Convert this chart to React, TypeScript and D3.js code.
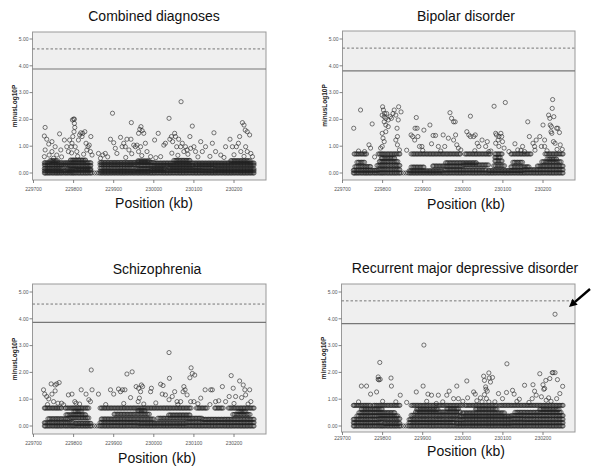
import React from "react";
import * as d3 from "d3";

// ---------- DATA ----------
const titles = ["Combined diagnoses", "Bipolar disorder", "Schizophrenia", "Recurrent major depressive disorder"];
const xTicks = [229700, 229800, 229900, 230000, 230100, 230200];
const yTicks = [0, 1, 2, 3, 4, 5];
const xLabel = "Position (kb)";
const yLabel = "minusLog10P";

// significance lines [solid, dashed]
const combinedLines = [3.88, 4.63];
const bipolarLines = [3.81, 4.66];
const schizoLines = [3.87, 4.55];
const mddLines = [3.82, 4.67];

// genotyped marker positions (kb)
const snpPositions = [229727,229729,229731,229734,229736,229739,229741,229744,229747,229749,229752,229755,229757,229760,229762,229765,229768,229770,229773,229776,229779,229781,229784,229786,229789,229792,229794,229797,229799,229801,229804,229806,229809,229812,229814,229817,229820,229822,229825,229828,229830,229833,229835,229838,229841,229843,229846,229852,229858,229863,229866,229869,229871,229874,229877,229879,229882,229885,229887,229890,229893,229895,229898,229901,229903,229906,229909,229911,229914,229917,229919,229922,229925,229927,229930,229933,229935,229938,229941,229943,229946,229949,229951,229954,229957,229960,229962,229965,229968,229970,229973,229976,229978,229981,229984,229986,229989,229992,229994,229997,230000,230002,230005,230008,230010,230013,230016,230018,230021,230024,230026,230029,230032,230034,230037,230040,230042,230045,230048,230050,230053,230056,230058,230061,230064,230066,230069,230072,230074,230077,230080,230082,230085,230088,230090,230093,230096,230098,230101,230104,230106,230109,230112,230114,230117,230120,230122,230125,230128,230130,230133,230136,230138,230141,230144,230146,230149,230152,230154,230157,230160,230162,230165,230168,230170,230173,230176,230178,230181,230184,230186,230189,230192,230194,230197,230200,230202,230205,230208,230210,230213,230216,230218,230221,230224,230226,230229,230232,230234,230237,230240,230242,230245,230248,230250];

// dense bands: [from kb, to kb, -log10 P] — markers in the span sit at that level
const combinedRows = [
  [[229727, 230250, 0]],
  [[229727, 229800, 0.08], [229802, 229843, 0.1], [229866, 229990, 0.07], [229992, 230120, 0.09], [230122, 230250, 0.08]],
  [[229727, 229775, 0.17], [229782, 229843, 0.15], [229866, 229950, 0.18], [229952, 230030, 0.16], [230036, 230150, 0.18], [230152, 230250, 0.15]],
  [[229727, 229790, 0.3], [229792, 229843, 0.28], [229866, 229960, 0.31], [229962, 230100, 0.29], [230102, 230250, 0.3]],
  [[229727, 229843, 0.38], [229866, 230000, 0.39], [230002, 230250, 0.37]],
  [[229740, 229760, 0.46], [229790, 229830, 0.48], [229960, 229990, 0.45], [230050, 230090, 0.47], [230190, 230240, 0.46]],
];
const bipolarRows = [
  [[229727, 230250, 0]],
  [[229727, 229790, 0.1], [229792, 229845, 0.12], [229866, 229950, 0.08], [229952, 230060, 0.11], [230062, 230150, 0.09], [230152, 230250, 0.12]],
  [[229730, 229770, 0.24], [229785, 229845, 0.28], [229870, 229905, 0.22], [229925, 230000, 0.26], [230002, 230065, 0.3], [230075, 230105, 0.27], [230120, 230165, 0.23], [230185, 230250, 0.26]],
  [[229735, 229755, 0.4], [229790, 229840, 0.43], [229955, 230035, 0.38], [230078, 230100, 0.45], [230125, 230150, 0.4], [230195, 230245, 0.42]],
  [[229795, 229830, 0.55], [230080, 230095, 0.58], [230210, 230235, 0.52]],
  [[229728, 229760, 0.71], [229788, 229845, 0.71], [229870, 229995, 0.71], [230005, 230070, 0.71], [230080, 230100, 0.71], [230120, 230170, 0.71], [230205, 230250, 0.71]],
];
const schizoRows = [
  [[229727, 230250, 0]],
  [[229727, 229800, 0.12], [229802, 229843, 0.1], [229866, 229960, 0.13], [229962, 230080, 0.11], [230082, 230250, 0.13]],
  [[229735, 229790, 0.27], [229792, 229840, 0.3], [229868, 230000, 0.26], [230010, 230120, 0.29], [230122, 230250, 0.25]],
  [[229780, 229830, 0.42], [229900, 229990, 0.44], [230035, 230090, 0.41], [230195, 230240, 0.43]],
  [[229800, 229820, 0.55], [229960, 229980, 0.57], [230210, 230230, 0.54]],
  [[229727, 229770, 0.67], [229778, 229840, 0.67], [229866, 230095, 0.67], [230105, 230135, 0.67], [230150, 230175, 0.67], [230185, 230250, 0.67]],
];
const mddRows = [
  [[229727, 230250, 0]],
  [[229727, 229800, 0.12], [229802, 229845, 0.1], [229866, 229980, 0.13], [229982, 230120, 0.11], [230122, 230250, 0.12]],
  [[229727, 229790, 0.25], [229792, 229845, 0.27], [229866, 230000, 0.24], [230002, 230150, 0.26], [230152, 230250, 0.25]],
  [[229735, 229840, 0.38], [229870, 229990, 0.4], [229992, 230120, 0.37], [230122, 230250, 0.39]],
  [[229740, 229830, 0.5], [229880, 229995, 0.52], [230000, 230105, 0.49], [230130, 230245, 0.51]],
  [[229745, 229800, 0.63], [229885, 229940, 0.62], [229960, 229990, 0.64], [230030, 230085, 0.63], [230190, 230240, 0.62]],
  [[229727, 229770, 0.77], [229775, 229845, 0.77], [229870, 230000, 0.77], [230005, 230085, 0.77], [230090, 230250, 0.77]],
];

// scattered markers [kb, -log10 P]
const combinedPoints = [
  [229727,1.38],[229729,1.70],[229733,1.26],[229738,1.08],[229746,1.17],[229727,0.61],[229729,0.86],[229739,0.67],[229746,0.80],[229754,0.98],
  [229758,0.67],[229765,1.46],[229768,0.86],[229777,1.23],[229783,0.98],[229787,0.80],[229790,1.23],[229794,0.98],[229797,1.98],[229800,2.01],
  [229802,2.01],[229802,1.85],[229803,1.70],[229801,1.54],[229798,1.36],[229796,1.11],[229804,0.98],[229808,0.80],[229812,1.23],[229815,1.42],
  [229818,1.50],[229821,1.36],[229823,1.48],[229828,1.54],[229831,1.11],[229833,0.86],[229836,0.98],[229839,1.04],[229843,1.36],[229842,0.80],
  [229846,0.67],[229862,0.73],[229867,0.55],[229873,0.67],[229879,0.73],[229892,1.26],[229897,2.23],[229900,1.13],[229904,0.92],[229908,0.73],
  [229917,1.33],[229921,0.98],[229925,1.11],[229929,0.98],[229933,1.26],[229938,0.86],[229943,1.26],[229944,1.88],[229950,1.04],[229954,0.98],
  [229958,1.04],[229962,1.48],[229965,1.63],[229968,1.73],[229971,1.58],[229975,1.48],[229979,1.11],[229967,0.98],[229962,0.80],[229983,0.80],
  [229992,0.61],[230002,1.23],[230011,1.48],[230017,0.61],[230025,1.04],[230029,1.11],[230038,2.04],[230040,1.26],[230044,1.36],[230047,1.17],
  [230052,1.48],[230054,1.36],[230057,0.98],[230062,1.26],[230068,2.66],[230067,0.98],[230071,1.11],[230075,0.80],[230079,0.98],[230083,0.86],
  [230090,1.36],[230092,0.92],[230096,1.75],[230100,0.98],[230104,0.80],[230117,1.17],[230121,0.80],[230129,0.98],[230146,1.11],[230150,1.50],
  [230154,0.80],[230167,0.67],[230179,0.98],[230190,1.26],[230196,0.98],[230206,0.98],[230211,1.11],[230214,1.36],[230221,1.88],[230225,1.79],
  [230228,1.60],[230233,1.54],[230239,1.42],[230229,0.98],[230233,0.80],[230242,0.73],[230246,0.61],[230217,0.80],
  [229750,0.55],[229770,0.60],[229810,0.62],[229825,0.70],[229885,0.60],[229930,0.58],[229970,0.65],[230005,0.57],[230060,0.66],[230110,0.60],
  [230140,0.62],[230175,0.58],[230200,0.68],[230225,0.62],[229945,0.72],[230085,0.70],[229795,0.75],[230045,0.74],
];
const bipolarPoints = [
  [229728,1.67],[229745,2.35],[229774,1.83],[229766,1.05],[229770,0.93],[229800,2.47],[229802,2.35],[229805,2.22],[229799,2.16],[229804,2.10],
  [229808,2.04],[229810,2.22],[229804,1.91],[229808,1.79],[229814,1.98],[229819,2.10],[229822,2.04],[229826,2.22],[229829,2.35],[229833,2.16],
  [229840,2.47],[229846,2.28],[229839,1.98],[229836,1.67],[229837,1.36],[229833,1.23],[229837,1.05],[229842,0.86],[229801,1.30],[229804,1.17],
  [229799,0.99],[229795,0.93],[229808,1.54],[229814,1.73],[229799,1.48],[229871,1.42],[229875,1.36],[229884,2.07],[229881,1.67],[229886,1.67],
  [229880,1.23],[229888,1.36],[229892,0.99],[229898,0.99],[229903,1.60],[229918,1.79],[229922,1.09],[229926,1.40],[229932,1.40],[229939,0.99],
  [229951,1.42],[229955,0.99],[229964,1.30],[229968,2.25],[229972,2.04],[229977,1.91],[229981,1.91],[229982,1.42],[229977,1.23],[229985,1.05],
  [229989,0.93],[230019,2.12],[230010,1.54],[230015,1.42],[230019,1.36],[230027,1.36],[230031,1.42],[230036,1.11],[230040,0.99],[230048,1.23],
  [230057,0.99],[230061,1.17],[230065,0.80],[230078,2.49],[230082,1.48],[230084,1.42],[230088,1.23],[230090,1.36],[230095,1.48],[230097,1.36],
  [230099,1.17],[230090,0.99],[230082,1.11],[230106,2.63],[230103,0.93],[230130,1.09],[230137,0.86],[230149,0.99],[230154,0.80],[230162,1.91],
  [230166,1.36],[230175,1.11],[230179,0.99],[230183,1.23],[230192,1.36],[230200,1.79],[230196,0.99],[230204,1.23],[230204,0.99],[230214,2.16],
  [230217,2.04],[230218,1.79],[230221,1.73],[230223,2.41],[230224,2.74],[230220,1.54],[230222,1.48],[230227,2.10],[230234,1.67],[230237,1.67],
  [230241,1.51],[230226,1.17],[230230,1.11],[230243,1.05],[230248,0.88],
  [229740,0.82],[229755,0.80],[229780,0.60],[229860,0.85],[229900,0.84],[229945,0.82],[229995,0.86],[230030,0.83],[230070,0.82],[230115,0.80],
  [230145,0.84],[230180,0.85],[230210,0.83],[230235,0.88],
];
const schizoPoints = [
  [229725,1.35],[229728,1.19],[229733,1.10],[229738,1.01],[229744,1.57],[229754,1.53],[229758,1.57],[229764,1.62],[229746,1.19],[229754,1.31],
  [229750,0.91],[229761,0.85],[229775,0.79],[229787,1.16],[229796,1.19],[229803,0.91],[229806,0.85],[229819,1.35],[229831,1.19],[229838,0.98],
  [229844,2.09],[229846,1.35],[229842,0.91],[229862,1.19],[229892,1.35],[229900,1.19],[229912,1.38],[229917,1.28],[229922,1.35],[229928,1.35],
  [229933,1.94],[229946,2.02],[229942,1.06],[229956,1.47],[229962,1.41],[229967,1.28],[229969,1.53],[229972,1.47],[229964,1.04],[229961,0.91],
  [229992,1.28],[229994,1.41],[230017,1.56],[230023,1.51],[230021,1.19],[230029,1.16],[230038,2.74],[230039,1.78],[230038,0.98],[230046,1.10],
  [230052,1.28],[230058,0.91],[230067,0.91],[230075,1.47],[230078,1.35],[230073,1.28],[230083,1.16],[230090,1.80],[230093,2.17],[230096,1.96],
  [230102,1.90],[230100,0.91],[230092,0.91],[230117,1.04],[230128,1.35],[230142,1.35],[230146,1.35],[230154,0.91],[230162,0.94],[230171,1.47],
  [230179,0.91],[230188,1.10],[230193,1.88],[230198,1.41],[230204,1.10],[230214,1.68],[230219,1.06],[230223,1.53],[230227,1.35],[230229,1.16],
  [230239,1.35],[230242,0.91],
  [229735,0.80],[229770,0.85],[229815,0.82],[229880,0.80],[229925,0.84],[229975,0.82],[230005,0.86],[230060,0.80],[230110,0.83],[230140,0.80],
  [230200,0.84],[230235,0.82],
];
const mddPoints = [
  [229747,1.49],[229760,1.49],[229770,1.19],[229785,1.27],[229789,1.83],[229789,1.74],[229791,1.72],[229794,1.74],[229793,2.37],[229821,1.79],
  [229822,1.49],[229844,1.15],[229833,0.90],[229884,1.27],[229901,1.49],[229903,3.02],[229913,1.19],[229922,1.15],[229939,1.15],[229934,0.84],
  [229960,1.15],[229966,1.30],[229977,1.02],[229985,1.49],[229989,1.02],[230010,1.68],[230012,1.05],[230027,1.27],[230031,1.19],[230044,1.05],
  [230048,0.90],[230052,1.86],[230054,1.70],[230057,1.46],[230058,1.37],[230061,1.30],[230065,1.98],[230066,1.79],[230069,1.64],[230054,1.17],
  [230059,1.02],[230065,0.90],[230074,1.81],[230089,1.21],[230099,1.02],[230110,2.32],[230109,1.25],[230124,1.33],[230128,1.19],[230141,1.00],
  [230154,1.52],[230175,1.54],[230179,1.30],[230183,1.15],[230173,1.02],[230192,1.95],[230200,1.54],[230202,1.37],[230204,1.40],[230207,1.70],
  [230196,1.09],[230214,1.05],[230217,1.77],[230223,1.99],[230225,1.99],[230230,1.99],[230236,1.73],[230242,1.21],[230249,1.48],[230230,4.17],
  [230234,1.02],[230208,0.96],
  [229740,0.90],[229800,0.92],[229860,0.88],[229910,0.92],[229950,0.90],[230000,0.92],[230035,0.94],[230080,0.90],[230135,0.92],[230165,0.88],
  [230220,0.92],
];

// ---------- LAYOUT ----------
type Panel = {
  title: string; rows: number[][][]; points: number[][]; lines: number[];
  L: number; R: number; T: number; B: number; x0: number; yZero: number;
  titleX: number; titleY: number; xlabX: number; xlabY: number; tickGap: number; arrow?: boolean;
};

const panels: Panel[] = [
  { title: titles[0], rows: combinedRows, points: combinedPoints, lines: combinedLines, L: 32.5, R: 266, T: 32, B: 180, x0: 33.5, yZero: 173, titleX: 154, titleY: 21, xlabX: 154, xlabY: 208, tickGap: 10.5 },
  { title: titles[1], rows: bipolarRows, points: bipolarPoints, lines: bipolarLines, L: 342.5, R: 575, T: 31, B: 180, x0: 342.5, yZero: 173, titleX: 466, titleY: 21, xlabX: 466, xlabY: 209, tickGap: 10.5 },
  { title: titles[2], rows: schizoRows, points: schizoPoints, lines: schizoLines, L: 32.5, R: 266, T: 284, B: 434, x0: 33.5, yZero: 426, titleX: 157, titleY: 274, xlabX: 157, xlabY: 463, tickGap: 10.5 },
  { title: titles[3], rows: mddRows, points: mddPoints, lines: mddLines, L: 341.5, R: 575, T: 284, B: 432, x0: 342.5, yZero: 426, titleX: 465, titleY: 273, xlabX: 466, xlabY: 456, tickGap: 8, arrow: true },
];

const fmt = d3.format(".2f");
const font = "'Liberation Sans', Arial, sans-serif";

function PanelView({ p }: { p: Panel }) {
  const x = d3.scaleLinear().domain([229700, 230200]).range([p.x0, p.x0 + 200.5]);
  const y = d3.scaleLinear().domain([0, 5]).range([p.yZero, p.yZero - 134]);
  const bandPts: number[][] = [];
  p.rows.forEach((row) => {
    row.forEach(([a, b, v]) => {
      snpPositions.forEach((s) => {
        if (s >= a && s <= b) bandPts.push([s, v]);
      });
    });
  });
  const all = bandPts.concat(p.points);
  const midY = (p.T + p.B) / 2;
  let arrowEl = null;
  if (p.arrow) {
    const tail = [590, 289], tip = [569, 307];
    const dx = tip[0] - tail[0], dy = tip[1] - tail[1];
    const len = Math.hypot(dx, dy);
    const ux = dx / len, uy = dy / len;
    const hl = 8, hw = 4;
    const bx = tip[0] - ux * hl, by = tip[1] - uy * hl;
    arrowEl = (
      <g>
        <line x1={tail[0]} y1={tail[1]} x2={bx} y2={by} stroke="#000" strokeWidth={2.4} />
        <polygon points={`${tip[0]},${tip[1]} ${bx + uy * hw},${by - ux * hw} ${bx - uy * hw},${by + ux * hw}`} fill="#000" />
      </g>
    );
  }
  return (
    <g>
      <text x={p.titleX} y={p.titleY} textAnchor="middle" fontFamily={font} fontSize={14} fill="#111">{p.title}</text>
      <rect x={p.L} y={p.T} width={p.R - p.L} height={p.B - p.T} fill="#efefef" stroke="#999" strokeWidth={1} />
      <line x1={p.L} x2={p.R} y1={y(p.lines[1])} y2={y(p.lines[1])} stroke="#777" strokeWidth={1} strokeDasharray="2.5,2" />
      <line x1={p.L} x2={p.R} y1={y(p.lines[0])} y2={y(p.lines[0])} stroke="#777" strokeWidth={1.2} />
      {all.map((d, i) => (
        <circle key={i} cx={x(d[0])} cy={y(d[1])} r={2.1} fill="none" stroke="#222" strokeWidth={0.6} />
      ))}
      {yTicks.map((t) => (
        <g key={t}>
          <line x1={p.L - 3} x2={p.L} y1={y(t)} y2={y(t)} stroke="#666" strokeWidth={0.8} />
          <text x={p.L - 4} y={y(t) + 1.8} textAnchor="end" fontFamily={font} fontSize={5} fill="#555">{fmt(t)}</text>
        </g>
      ))}
      {xTicks.map((t) => (
        <g key={t}>
          <line x1={x(t)} x2={x(t)} y1={p.B} y2={p.B + 3} stroke="#666" strokeWidth={0.8} />
          <text x={x(t)} y={p.B + p.tickGap} textAnchor="middle" fontFamily={font} fontSize={5} fill="#555">{t}</text>
        </g>
      ))}
      <text transform={`translate(${p.L - 16},${midY}) rotate(-90)`} textAnchor="middle" fontFamily={font} fontSize={6.5} fontWeight="bold" fill="#222">{yLabel}</text>
      <text x={p.xlabX} y={p.xlabY} textAnchor="middle" fontFamily={font} fontSize={14} fill="#111">{xLabel}</text>
      {arrowEl}
    </g>
  );
}

export default function App() {
  return (
    <svg width={600} height={471} style={{ position: "absolute", left: 0, top: 0, background: "#fff" }}>
      <rect width={600} height={471} fill="#fff" />
      {panels.map((p, i) => <PanelView key={i} p={p} />)}
    </svg>
  );
}
